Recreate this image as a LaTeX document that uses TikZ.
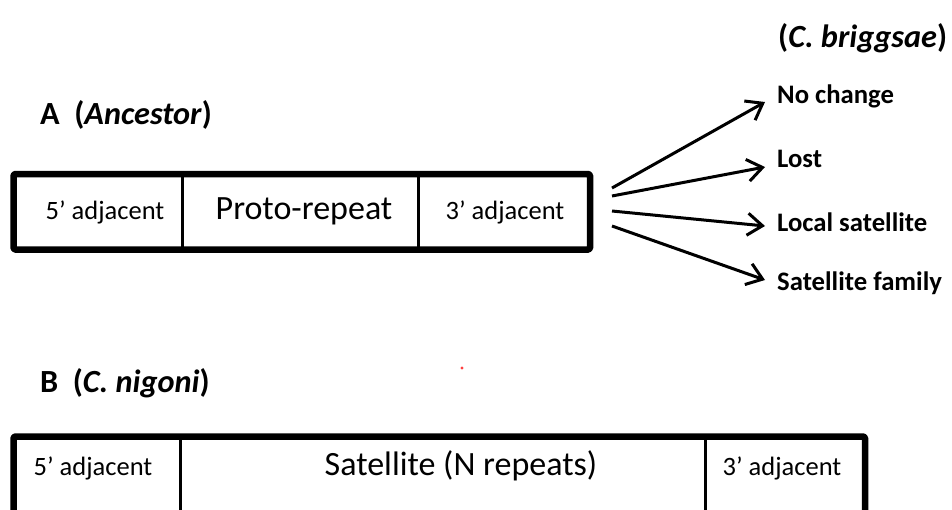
\documentclass[tikz,border=0pt]{standalone}
\usepackage{fontspec}
\setmainfont{Carlito}
\usetikzlibrary{arrows.meta}
\begin{document}
\begin{tikzpicture}[x=1pt,y=-1pt,
  outerbox/.style={draw=black,line width=6.5pt,line join=round,rounded corners=1.5pt},
  divider/.style={draw=black,line width=3pt},
  boxtext/.style={font=\fontsize{26.5}{30}\selectfont,inner sep=0pt},
  bigtext/.style={font=\fontsize{34}{38}\selectfont,inner sep=0pt},
  heading/.style={font=\bfseries\fontsize{32.3}{36}\selectfont,inner sep=0pt,anchor=west},
  outcome/.style={font=\bfseries\fontsize{26.7}{30}\selectfont,inner sep=0pt,anchor=west},
  fate/.style={line width=3pt,-{Straight Barb[length=15pt,width=22pt,line width=3pt]}}]
\useasboundingbox (0,0) rectangle (952,509);
\clip (0,0) rectangle (952,509);
\fill[white] (0,0) rectangle (952,509);
% headings
\node[heading] (hA) at (40,115) {A\ \ (\textit{Ancestor})};
\node[heading] (hB) at (40,383) {B\ \ (\textit{C. nigoni})};
\node[heading] (hC) at (778,38) {(\textit{C. briggsae})};
% box A
\draw[outerbox] (13.5,174) rectangle (590,249.5);
\draw[divider] (182.5,174) -- (182.5,249.5);
\draw[divider] (418.7,174) -- (418.7,249.5);
\node[boxtext] (a5) at (105,212) {5’ adjacent};
\node[bigtext] (ap) at (304,211) {Proto-repeat};
\node[boxtext] (a3) at (505,212) {3’ adjacent};
% box B
\draw[outerbox] (13.5,436.5) rectangle (865,540);
\draw[divider] (180,436.5) -- (180,540);
\draw[divider] (705,436.5) -- (705,540);
\node[boxtext] (b5) at (93,468) {5’ adjacent};
\node[bigtext] (bs) at (461,466) {Satellite (N repeats)};
\node[boxtext] (b3) at (782,468) {3’ adjacent};
% outcomes
\node[outcome] (o1) at (777,96) {No change};
\node[outcome] (o2) at (777,159) {Lost};
\node[outcome] (o3) at (777,222) {Local satellite};
\node[outcome] (o4) at (777,283) {Satellite family};
\coordinate (s1) at (612,188);
\coordinate (s2) at (612,196);
\coordinate (s3) at (612,211);
\coordinate (s4) at (612,226);
\draw[fate] (s1) -- (765,102);
\draw[fate] (s2) -- (765,167);
\draw[fate] (s3) -- (765,226);
\draw[fate] (s4) -- (765,280);
% stray dot
\fill[red!75] (462,368) circle (1.6);
\end{tikzpicture}
\end{document}
